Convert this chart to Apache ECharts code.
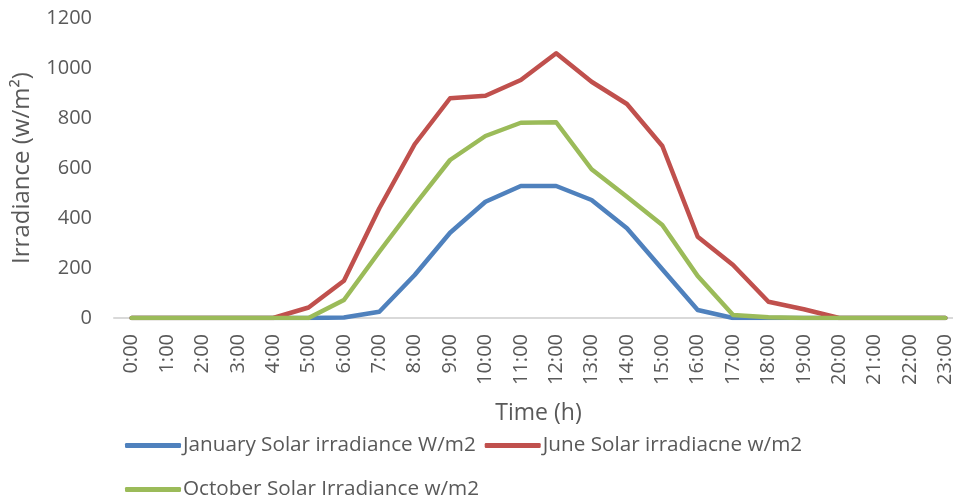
<!DOCTYPE html>
<html>
<head>
<meta charset="utf-8">
<script src="https://cdn.jsdelivr.net/npm/echarts@6/dist/echarts.min.js"></script>
<style>html,body{margin:0;padding:0;background:#fff}#c{width:953px;height:501px}</style>
</head>
<body>
<div id="c"></div>
<script>
const hours = ["0:00","1:00","2:00","3:00","4:00","5:00","6:00","7:00","8:00","9:00","10:00","11:00","12:00","13:00","14:00","15:00","16:00","17:00","18:00","19:00","20:00","21:00","22:00","23:00"];
const january = [0,0,0,0,0,0,2,25,172,341,465,528,528,472,359,195,32,0,0,0,0,0,0,0];
const june    = [0,0,0,0,0,42,149,439,695,879,889,952,1059,945,856,688,325,212,65,35,0,0,0,0];
const october = [0,0,0,0,0,0,72,265,452,632,728,781,783,595,485,372,168,12,3,0,0,0,0,0];
const names = ["January Solar irradiance W/m2","June Solar irradiacne w/m2","October Solar Irradiance w/m2"];
const colors = ["#4F81BD","#C0504D","#9BBB59"];
const yTicks = {min:0, max:1200, interval:200};

const font = "Open Sans";
const txt = "#595959";
const chart = echarts.init(document.getElementById('c'));
const mk = (name, data, color) => ({
  name, type:'line', data, symbol:'none', smooth:false,
  lineStyle:{width:4.5, color, cap:'round', join:'round'}, itemStyle:{color}
});
const legendCommon = {
  icon:'roundRect', itemWidth:56, itemHeight:5, itemGap:9,
  textStyle:{fontFamily:font, fontSize:20.7, color:txt, padding:[0,0,0,-3]},
  left:120
};
chart.setOption({
  animation:false,
  color:colors,
  grid:{left:114, right:-10, top:18, bottom:183, containLabel:false, outerBoundsMode:'none'},
  xAxis:{
    type:'category', data:hours, boundaryGap:true,
    name:'Time (h)', nameLocation:'middle', nameGap:84,
    nameTextStyle:{fontFamily:font, fontSize:23, color:txt},
    axisLine:{lineStyle:{color:'#D9D9D9', width:2}},
    axisTick:{show:false},
    axisLabel:{rotate:90, interval:0, margin:16, fontFamily:font, fontSize:20, color:txt}
  },
  yAxis:{
    type:'value', min:yTicks.min, max:yTicks.max, interval:yTicks.interval,
    name:'Irradiance (w/m²)', nameLocation:'middle', nameGap:80,
    nameTextStyle:{fontFamily:font, fontSize:24, color:txt},
    splitLine:{show:false}, axisLine:{show:false}, axisTick:{show:false},
    axisLabel:{margin:22, fontFamily:font, fontSize:20, color:txt, formatter:v => String(v)}
  },
  legend:[
    Object.assign({}, legendCommon, {data:[names[0], names[1]], top:430}),
    Object.assign({}, legendCommon, {data:[names[2]], top:474})
  ],
  series:[mk(names[0], january, colors[0]), mk(names[1], june, colors[1]), mk(names[2], october, colors[2])]
});
</script>
</body>
</html>
